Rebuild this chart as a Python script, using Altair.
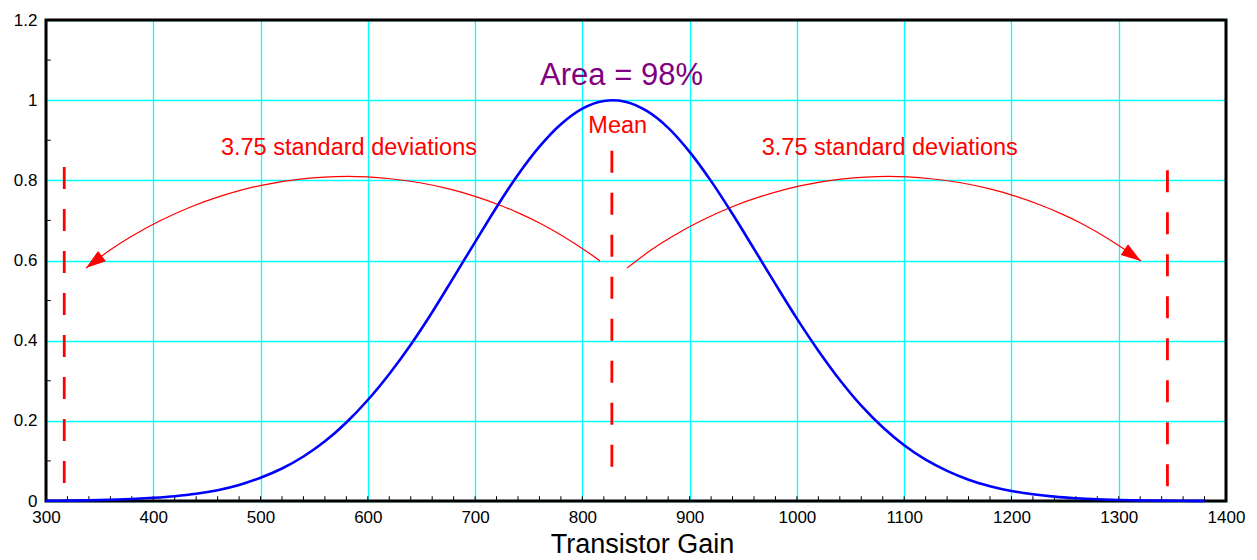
import altair as alt
import pandas as pd

# ---- data ----
curve_x = [300, 320, 340, 360, 380, 400, 420, 440, 460, 480, 500, 520, 540, 560, 580,
           600, 620, 640, 660, 680, 700, 720, 740, 760, 780, 800, 820, 840, 860, 880,
           900, 920, 940, 960, 980, 1000, 1020, 1040, 1060, 1080, 1100, 1120, 1140,
           1160, 1180, 1200, 1220, 1240, 1260, 1280, 1300, 1320, 1340, 1360, 1380]
curve_y = [0.0006, 0.001, 0.0018, 0.003, 0.005, 0.008, 0.012, 0.018, 0.027, 0.040, 0.058,
           0.081, 0.111, 0.149, 0.196, 0.252, 0.317, 0.390, 0.471, 0.558, 0.646, 0.733,
           0.814, 0.884, 0.940, 0.979, 0.998, 0.996, 0.973, 0.931, 0.871, 0.798, 0.716,
           0.629, 0.541, 0.455, 0.375, 0.302, 0.238, 0.184, 0.139, 0.103, 0.075, 0.053,
           0.037, 0.025, 0.017, 0.011, 0.007, 0.0043, 0.0026, 0.0016, 0.0009, 0.0005, 0.0003]

left_arc_x = [816.4, 807.1, 793.1, 779.2, 760.5, 741.9, 723.2, 699.9, 676.6, 648.6,
              620.7, 581.1, 536.8, 499.5, 462.2, 434.2, 406.3, 378.3, 359.7, 337.3]
left_arc_y = [0.599, 0.617, 0.642, 0.665, 0.693, 0.717, 0.738, 0.760, 0.778, 0.794,
              0.804, 0.810, 0.803, 0.787, 0.760, 0.733, 0.699, 0.658, 0.626, 0.581]
right_arc_x = [841.6, 864.0, 882.6, 910.6, 938.5, 966.5, 1003.8, 1041.1, 1085.4, 1125.0,
               1152.9, 1180.9, 1204.2, 1227.5, 1246.2, 1264.8, 1283.5, 1297.4, 1311.4, 1320.7]
right_arc_y = [0.581, 0.626, 0.658, 0.699, 0.733, 0.760, 0.787, 0.803, 0.810, 0.804,
               0.794, 0.778, 0.760, 0.738, 0.717, 0.693, 0.665, 0.642, 0.617, 0.599]

arrow_x = [337.3, 1320.7]
arrow_y = [0.581, 0.599]
arrow_angle = [233.0, 124.0]

dash_x = [317.0, 827.5, 1345.4]
dash_top = [0.833, 0.874, 0.825]
dash_bottom = [0.035, 0.085, 0.032]

label_text = ["Area = 98%", "Mean", "3.75 standard deviations", "3.75 standard deviations"]
label_x = [836.5, 833.0, 582.4, 1086.6]
label_y = [1.039, 0.918, 0.863, 0.863]
label_color = ["#800080", "#ff0000", "#ff0000", "#ff0000"]
label_size = [31, 23.5, 23.5, 23.5]

x_ticks = [300, 400, 500, 600, 700, 800, 900, 1000, 1100, 1200, 1300, 1400]
y_ticks = [0, 0.2, 0.4, 0.6, 0.8, 1, 1.2]
x_minor = [320, 340, 360, 380, 400, 420, 440, 460, 480, 500, 520, 540, 560, 580, 600,
           620, 640, 660, 680, 700, 720, 740, 760, 780, 800, 820, 840, 860, 880, 900,
           920, 940, 960, 980, 1000, 1020, 1040, 1060, 1080, 1100, 1120, 1140, 1160,
           1180, 1200, 1220, 1240, 1260, 1280, 1300, 1320, 1340, 1360, 1380]
y_minor = [0.1, 0.3, 0.5, 0.7, 0.9, 1.1]

X_DOMAIN = [300, 1400]
Y_DOMAIN = [0, 1.2]

FONT = "Liberation Sans"

# ---- tables ----
curve_df = pd.DataFrame({"x": curve_x, "y": curve_y})
arc_df = pd.concat([
    pd.DataFrame({"x": left_arc_x, "y": left_arc_y, "arc": "left", "o": range(len(left_arc_x))}),
    pd.DataFrame({"x": right_arc_x, "y": right_arc_y, "arc": "right", "o": range(len(right_arc_x))}),
])
arrow_df = pd.DataFrame({"x": arrow_x, "y": arrow_y, "angle": arrow_angle})
dash_df = pd.DataFrame({"x": dash_x, "top": dash_top, "bottom": dash_bottom})
label_df = pd.DataFrame({"text": label_text, "x": label_x, "y": label_y,
                         "color": label_color, "size": label_size})
xminor_df = pd.DataFrame({"x": x_minor})
yminor_df = pd.DataFrame({"y": y_minor})
frame_df = pd.DataFrame({"x0": [X_DOMAIN[0]], "x1": [X_DOMAIN[1]],
                         "y0": [Y_DOMAIN[0]], "y1": [Y_DOMAIN[1]]})

X_SCALE = alt.Scale(domain=X_DOMAIN, nice=False, zero=False)
Y_SCALE = alt.Scale(domain=Y_DOMAIN, nice=False, zero=False)
X_AXIS = alt.Axis(values=x_ticks, title="Transistor Gain", format="d",
                  grid=True, gridColor="#00ffff", gridWidth=1.3, gridOpacity=1,
                  ticks=False, tickSize=0, domain=False,
                  labelFont=FONT, labelFontSize=17, labelColor="black", labelPadding=8,
                  labelFlush=False, labelOverlap=False,
                  titleFont=FONT, titleFontSize=27, titleFontWeight="normal",
                  titleColor="black", titlePadding=6, titleX=596)
Y_AXIS = alt.Axis(values=y_ticks, title=None, format="~g",
                  grid=True, gridColor="#00ffff", gridWidth=1.3, gridOpacity=1,
                  ticks=False, tickSize=0, domain=False,
                  labelFont=FONT, labelFontSize=17, labelColor="black", labelPadding=9,
                  labelFlush=False, labelOverlap=False)


def xf(field):
    return alt.X(field, type="quantitative", scale=X_SCALE, axis=X_AXIS)


def yf(field):
    return alt.Y(field, type="quantitative", scale=Y_SCALE, axis=Y_AXIS)


frame = alt.Chart(frame_df).mark_rect(filled=False, stroke="black", strokeWidth=3).encode(
    x=xf("x0"), x2="x1", y=yf("y0"), y2="y1")

curve = alt.Chart(curve_df).mark_line(color="#0000ff", strokeWidth=2.6,
                                      interpolate="catmull-rom").encode(
    x=xf("x"), y=yf("y"), order="x:Q")

arcs = alt.Chart(arc_df).mark_line(color="#ff0000", strokeWidth=1.2,
                                   interpolate="catmull-rom").encode(
    x=xf("x"), y=yf("y"), detail="arc:N", order="o:Q")

arrows = alt.Chart(arrow_df).mark_point(
    shape="M0,0L-0.65,2L0.65,2Z", filled=True, color="#ff0000", opacity=1, size=400,
    strokeWidth=0).encode(x=xf("x"), y=yf("y"), angle=alt.Angle("angle:Q", scale=None))

dashes = alt.Chart(dash_df).mark_rule(color="#ff0000", strokeWidth=2.8, strokeDash=[22, 20]).encode(
    x=xf("x"), y=yf("top"), y2="bottom")

xminor = alt.Chart(xminor_df).mark_rule(color="black", strokeWidth=1).encode(
    x=xf("x"),
    y=alt.Y(datum=0, type="quantitative", scale=Y_SCALE, axis=Y_AXIS),
    y2=alt.Y2(datum=0.012))

yminor = alt.Chart(yminor_df).mark_rule(color="black", strokeWidth=1).encode(
    y=yf("y"),
    x=alt.X(datum=300, type="quantitative", scale=X_SCALE, axis=X_AXIS),
    x2=alt.X2(datum=304.5))

labels = alt.Chart(label_df).mark_text(font=FONT, align="center", baseline="alphabetic").encode(
    x=xf("x"), y=yf("y"), text="text:N",
    color=alt.Color("color:N", scale=None),
    size=alt.Size("size:Q", scale=None))

chart = alt.layer(frame, xminor, yminor, dashes, arcs, arrows, curve, labels).properties(
    width=1180, height=481,
    padding={"left": 38, "top": 12, "right": 23, "bottom": 59},
    autosize=alt.AutoSizeParams(type="none"),
).configure_view(stroke=None)

chart.save("out.html", embed_options={"renderer": "svg", "actions": False})
